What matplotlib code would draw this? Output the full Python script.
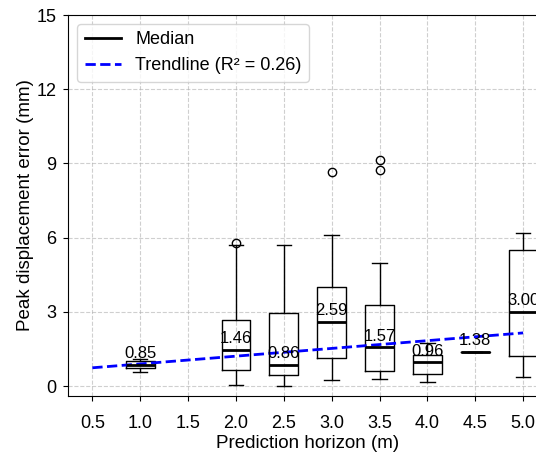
import matplotlib
matplotlib.use("Agg")
import matplotlib.pyplot as plt
from matplotlib.lines import Line2D

plt.rcParams['font.family'] = ['Liberation Sans', 'DejaVu Sans']

# box statistics (mm)
horizons = [1.0, 2.0, 2.5, 3.0, 3.5, 4.0, 4.5, 5.0]
medians = [0.85, 1.46, 0.86, 2.59, 1.57, 0.96, 1.38, 3.00]
q1 = [0.72, 0.65, 0.44, 1.14, 0.62, 0.48, 1.38, 1.22]
q3 = [1.02, 2.69, 2.97, 4.01, 3.26, 1.25, 1.38, 5.52]
whisker_low = [0.58, 0.04, 0.02, 0.24, 0.28, 0.15, 1.38, 0.38]
whisker_high = [1.08, 5.72, 5.69, 6.11, 4.99, 1.75, 1.38, 6.19]
outliers = [[], [5.78], [], [8.65], [8.75, 9.15], [], [], []]

# fitted trendline end points
trend_x = [0.5, 5.0]
trend_y = [0.74, 2.15]
r_squared = 0.26

xtick_vals = [0.5, 1.0, 1.5, 2.0, 2.5, 3.0, 3.5, 4.0, 4.5, 5.0]
ytick_vals = [0, 3, 6, 9, 12, 15]

fig = plt.figure(figsize=(5.36, 4.57), dpi=100)
ax = fig.add_axes([0.1276, 0.1335, 0.893, 0.8335])

stats = []
for i in range(len(horizons)):
    stats.append({'med': medians[i], 'q1': q1[i], 'q3': q3[i],
                  'whislo': whisker_low[i], 'whishi': whisker_high[i],
                  'fliers': outliers[i]})

ax.bxp(stats, positions=horizons, widths=0.3, manage_ticks=False,
       boxprops=dict(color='black', linewidth=1),
       whiskerprops=dict(color='black', linewidth=1),
       capprops=dict(color='black', linewidth=1),
       medianprops=dict(color='black', linewidth=2),
       flierprops=dict(marker='o', markerfacecolor='none',
                       markeredgecolor='black', markersize=6))

# median labels
for x, m in zip(horizons, medians):
    ax.text(x, m + 0.15, f"{m:.2f}", ha='center', va='bottom', fontsize=12)

ax.plot(trend_x, trend_y, color='blue', linestyle='--', linewidth=2)

ax.set_xlim(0.25, 5.25)
ax.set_ylim(-0.4, 15)
ax.set_xticks(xtick_vals)
ax.set_xticklabels([f"{v:.1f}" for v in xtick_vals])
ax.set_yticks(ytick_vals)
ax.tick_params(labelsize=13)
ax.tick_params(axis='x', pad=10)
ax.tick_params(axis='y', pad=5)
ax.grid(True, linestyle='--', alpha=0.6)
ax.set_axisbelow(True)

ax.set_xlabel("Prediction horizon (m)", fontsize=13.5, labelpad=2)
ax.set_ylabel("Peak displacement error (mm)", fontsize=13.5, labelpad=2)

handles = [Line2D([0], [0], color='black', linewidth=2),
           Line2D([0], [0], color='blue', linestyle='--', linewidth=2)]
ax.legend(handles, ["Median", f"Trendline (R\u00b2 = {r_squared:.2f})"],
          loc='upper left', fontsize=13)

fig.savefig("out.png", dpi=100)
